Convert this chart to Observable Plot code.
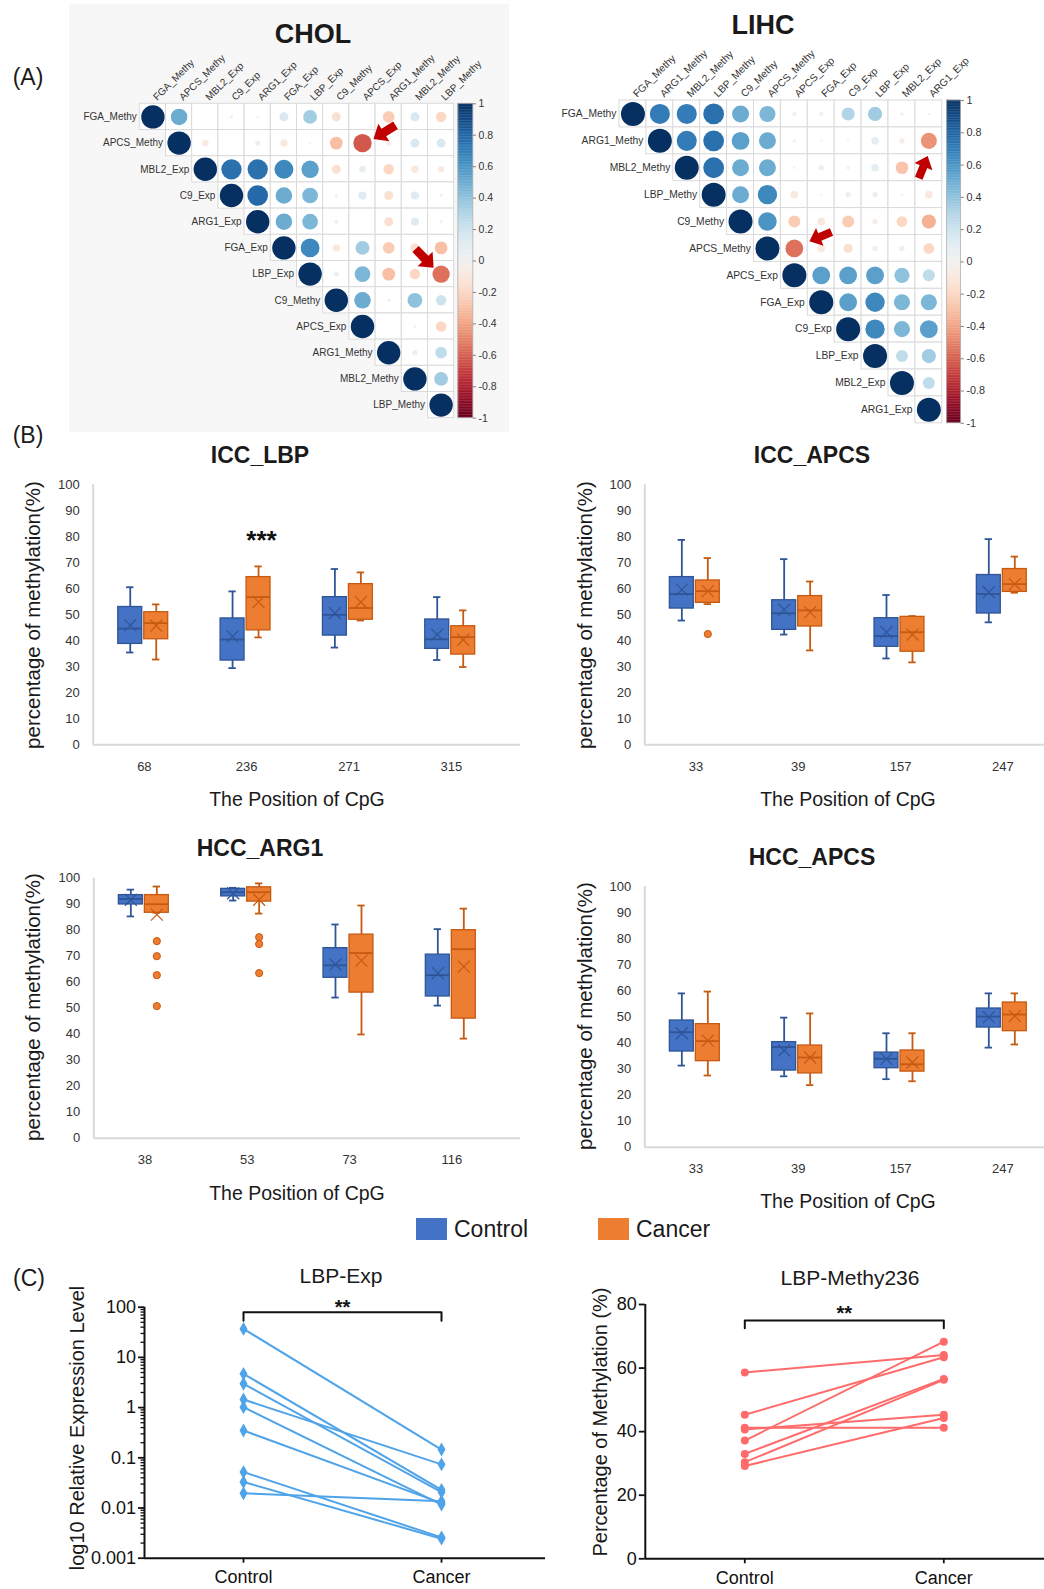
<!DOCTYPE html>
<html><head><meta charset="utf-8">
<script src="https://cdn.jsdelivr.net/npm/d3@7"></script>
<script src="https://cdn.jsdelivr.net/npm/@observablehq/plot@0.6"></script>
<style>
html,body{margin:0;padding:0;background:#fff;}
body{width:1044px;height:1589px;position:relative;overflow:hidden;font-family:"Liberation Sans",Arial,sans-serif;color:#1a1a1a;}
.abs{position:absolute;}
.lbl{position:absolute;white-space:nowrap;line-height:1;transform:translate(-50%,-50%);}
</style></head><body>
<script>
// ---------------- DATA ----------------
// (A) correlation matrices (upper triangle, each row starts at the diagonal)
const cholVars = ["FGA_Methy","APCS_Methy","MBL2_Exp","C9_Exp","ARG1_Exp","FGA_Exp","LBP_Exp","C9_Methy","APCS_Exp","ARG1_Methy","MBL2_Methy","LBP_Methy"];
const cholCorr = [
  [1, 0.5, 0, 0.02, 0.01, 0.15, 0.35, -0.15, 0, -0.25, 0.15, -0.2],
  [1, -0.08, 0, 0.05, -0.1, 0.01, -0.3, -0.62, -0.05, 0.15, 0.15],
  [1, 0.75, 0.75, 0.65, 0.55, -0.15, 0.08, -0.2, -0.1, -0.08],
  [1, 0.78, 0.5, 0.45, -0.02, 0.12, -0.15, 0.12, -0.02],
  [1, 0.5, 0.45, -0.03, 0, -0.15, 0.12, -0.02],
  [1, 0.65, -0.1, 0.35, -0.25, -0.15, -0.3],
  [1, 0.05, 0.45, -0.3, -0.2, -0.55],
  [1, 0.5, -0.02, 0.4, 0.2],
  [1, 0, -0.01, -0.2],
  [1, 0.05, 0.25],
  [1, 0.35],
  [1]
];
const lihcVars = ["FGA_Methy","ARG1_Methy","MBL2_Methy","LBP_Methy","C9_Methy","APCS_Methy","APCS_Exp","FGA_Exp","C9_Exp","LBP_Exp","MBL2_Exp","ARG1_Exp"];
const lihcCorr = [
  [1, 0.7, 0.7, 0.75, 0.5, 0.45, 0.03, 0.03, 0.3, 0.35, 0.02, 0.01],
  [1, 0.7, 0.75, 0.55, 0.5, 0.02, 0.01, 0.01, 0.1, -0.05, -0.45],
  [1, 0.75, 0.5, 0.5, 0.01, 0.05, 0.02, 0.1, -0.28, -0.05],
  [1, 0.5, 0.65, -0.1, 0.01, 0.05, 0.05, 0.01, -0.1],
  [1, 0.6, -0.25, -0.1, -0.25, -0.05, -0.2, -0.35],
  [1, -0.55, -0.1, -0.15, -0.05, -0.05, -0.2],
  [1, 0.55, 0.55, 0.55, 0.4, 0.25],
  [1, 0.55, 0.65, 0.45, 0.45],
  [1, 0.65, 0.45, 0.55],
  [1, 0.25, 0.35],
  [1, 0.25],
  [1]
];
const colorbarTicks = [1, 0.8, 0.6, 0.4, 0.2, 0, -0.2, -0.4, -0.6, -0.8, -1];
// annotation arrows: cell-space position and pointing angle (deg, clockwise from up)
const cholArrows = [{x: 9.34, y: 1.08, angle: 238}, {x: 10.87, y: 5.9, angle: 136}];
const lihcArrows = [{x: 11.29, y: 2.48, angle: 22}, {x: 7.47, y: 5.06, angle: 247}];

// (B) box plots: [min, q1, median, q3, max, mean]
const iccLbpPositions = ["68","236","271","315"];
const iccLbpControl = [[35.5,38.8,44.7,53,60.6,46],[29.5,32.4,40.5,48.6,59,41.7],[37.4,42,50,56.8,67.6,50.6],[32.6,36.9,40.6,48.2,56.8,42.4]];
const iccLbpCancer  = [[32.8,40.6,46.8,51,54,45.8],[41.3,44,56.8,64.5,68.6,54.9],[47.8,48.1,52.6,61.8,66.3,54.9],[29.9,34.7,41.4,45.6,51.7,40.4]];
const iccLbpOutliers = [];

const iccApcsPositions = ["33","39","157","247"];
const iccApcsControl = [[47.8,52.4,58,64.5,78.8,59.7],[42.4,44.2,50.6,55.6,71.4,52],[33.2,37.7,41.8,48.7,57.6,43.3],[47.1,50.5,58,65.3,79.1,58.7]];
const iccApcsCancer  = [[54.1,54.6,59.1,63.2,71.8,59.1],[36.3,45.5,51.7,57.2,62.8,51],[31.7,35.8,43.3,49.2,49.5,42.4],[58.5,58.8,61.8,67.6,72.4,61.8]];
const iccApcsOutliers = [[0, 42.6]];

const hccArg1Positions = ["38","53","73","116"];
const hccArg1Control = [[85.3,89.9,92,93.5,95.6,91.7],[91.4,93,94.6,95.9,96.3,94.2],[54.1,61.7,66.5,73.1,82.2,66.8],[51,54.5,62.7,70.6,80.4,63.5]];
const hccArg1Cancer  = [[86.7,86.7,90,93.5,96.8,86],[86.4,91,94.6,96.5,98,91.7],[39.9,56,71.2,78.3,89.5,68.3],[38.3,46,72.7,80,88.3,66]];
const hccArg1Outliers = [[0,75.8],[0,70],[0,62.7],[0,50.8],[1,77.3],[1,74.7],[1,63.5]];

const hccApcsPositions = ["33","39","157","247"];
const hccApcsControl = [[31.3,36.7,44.1,48.6,59,43.7],[27.2,29.4,38.4,40.3,49.7,37.1],[26.1,30.3,33.9,36.3,43.7,33.9],[38.2,45.9,50.1,53.2,59,49.9]];
const hccApcsCancer  = [[27.5,33,40.7,47.2,59.7,40.9],[23.8,28.3,34.4,39,51.3,34.4],[25.3,29,31.8,37.1,43.7,32.5],[39.4,44.5,50.9,55.5,59,50.3]];
const hccApcsOutliers = [];

const yTicksB = [0,10,20,30,40,50,60,70,80,90,100];
const groups = ["Control","Cancer"];

// (C) paired samples
const expControl = [37, 4.7, 2.98, 1.45, 1.02, 0.35, 0.052, 0.033, 0.0197];
const expCancer  = [0.146, 0.023, 0.0207, 0.074, 0.0117, 0.0125, 0.0026, 0.00245, 0.0136];
const expTicks = [0.001, 0.01, 0.1, 1, 10, 100];
const methyControl = [58.6, 45.3, 41.2, 40.7, 37.2, 33.0, 30.4, 29.2];
const methyCancer  = [64.1, 63.4, 41.2, 45.3, 68.3, 56.6, 56.3, 44.3];
const methyTicks = [0, 20, 40, 60, 80];

// ---------------- HELPERS ----------------
const FONT = '"Liberation Sans", Arial, sans-serif';
function put(node, left, top, w) {
  const d = document.createElement("div");
  d.className = "abs"; d.style.left = left + "px"; d.style.top = top + "px";
  if (w) d.style.width = w + "px";
  d.appendChild(node); document.body.appendChild(d); return d;
}
function label(str, x, y, o = {}) {
  const d = document.createElement("div");
  d.className = "lbl"; d.textContent = str;
  d.style.left = x + "px"; d.style.top = y + "px";
  d.style.fontSize = (o.size || 20) + "px";
  if (o.bold) d.style.fontWeight = "bold";
  if (o.rotate) d.style.transform = `translate(-50%,-50%) rotate(${o.rotate}deg)`;
  if (o.color) d.style.color = o.color;
  document.body.appendChild(d);
}
function arrowSymbol(angle) {
  const t = angle * Math.PI / 180, c = Math.cos(t), s = Math.sin(t);
  return {draw(ctx, size) {
    const L = Math.sqrt(size / Math.PI) * 2;
    const hw = L * 0.4, sw = L * 0.17, top = -L / 2, bot = L / 2, neck = top + L * 0.47;
    const pts = [[0, top], [hw, neck], [sw, neck], [sw, bot], [-sw, bot], [-sw, neck], [-hw, neck]];
    pts.forEach(([px, py], k) => {
      const X = px * c - py * s, Y = px * s + py * c;
      if (k === 0) ctx.moveTo(X, Y); else ctx.lineTo(X, Y);
    });
    ctx.closePath();
  }};
}

// ---------------- (A) CORRELATION PLOTS ----------------
function corrPlot(vars, rows, arrows, b) {
  const n = vars.length;
  const cells = [];
  rows.forEach((row, i) => row.forEach((v, k) => cells.push({i, j: i + k, v})));
  const steps = d3.range(0, 200).map(k => ({v0: -1 + k * 0.01, v1: -1 + (k + 1) * 0.01}));
  const cx1 = n + b.cbGap, cx2 = n + b.cbGap + b.cbW;
  const yOf = v => (1 - v) * n / 2;
  const marks = [
    Plot.rect(cells, {x1: "j", x2: d => d.j + 1, y1: "i", y2: d => d.i + 1, fill: "white", stroke: "#dadada", strokeWidth: 1}),
    Plot.dot(cells, {x: d => d.j + 0.5, y: d => d.i + 0.5, r: d => Math.abs(d.v), fill: "v", stroke: "none"}),
    Plot.text(vars, {x: (d, i) => i + 0.5, y: () => 0, text: d => d, rotate: -45, textAnchor: "start", dx: 2, dy: -5, fontSize: b.fs, fill: "#333"}),
    Plot.text(vars, {x: (d, i) => i, y: (d, i) => i + 0.5, text: d => d, textAnchor: "end", dx: -3, fontSize: b.fs, fill: "#333"}),
    Plot.rect(steps, {x1: () => cx1, x2: () => cx2, y1: d => yOf(d.v1), y2: d => yOf(d.v0), fill: d => (d.v0 + d.v1) / 2, stroke: d => (d.v0 + d.v1) / 2, strokeWidth: 0.3}),
    Plot.rect([0], {x1: () => cx1, x2: () => cx2, y1: () => 0, y2: () => n, fill: "none", stroke: "#b0b0b0", strokeWidth: 0.8}),
    Plot.ruleY(colorbarTicks, {y: d => yOf(d), x1: () => cx2, x2: () => cx2 + 0.12, stroke: "#666", strokeWidth: 0.8}),
    Plot.text(colorbarTicks, {x: () => cx2 + 0.2, y: d => yOf(d), text: d => String(d), textAnchor: "start", fontSize: b.fs + 0.5, fill: "#333"})
  ];
  arrows.forEach(a => marks.push(Plot.dot([a], {x: "x", y: "y", r: b.ar, symbol: arrowSymbol(a.angle), fill: "#c00000", stroke: "none"})));
  return Plot.plot({
    width: b.w, height: b.h, margin: 0,
    x: {domain: [0, n], range: [b.gx, b.gx + n * b.cell], axis: null},
    y: {domain: [0, n], range: [b.gy, b.gy + n * b.cell], axis: null},
    color: {type: "linear", domain: [-1, 1], scheme: "rdbu"},
    r: {type: "sqrt", domain: [0, 1], range: [0, b.rmax]},
    style: {background: b.bg, fontFamily: FONT, overflow: "visible"},
    marks
  });
}
put(corrPlot(cholVars, cholCorr, cholArrows, {w: 440, h: 428, gx: 70.3, gy: 99.3, cell: 26.2, rmax: 11.7, cbGap: 0.16, cbW: 0.57, bg: "#f7f7f7", fs: 10, ar: 13}), 69, 4, 440);
put(corrPlot(lihcVars, lihcCorr, lihcArrows, {w: 504, h: 432, gx: 79, gy: 100, cell: 26.9, rmax: 12, cbGap: 0.18, cbW: 0.52, bg: "white", fs: 10.3, ar: 12}), 540, 0, 504);
label("CHOL", 313, 34, {size: 27, bold: true});
label("LIHC", 763, 25, {size: 27, bold: true});
label("(A)", 28, 77, {size: 23});

// ---------------- (B) BOX PLOTS ----------------
function boxPanel(positions, control, cancer, outliers, b) {
  const rows = [];
  control.forEach((s, i) => rows.push({i, g: "Control", min: s[0], q1: s[1], med: s[2], q3: s[3], max: s[4], mean: s[5]}));
  cancer.forEach((s, i) => rows.push({i, g: "Cancer", min: s[0], q1: s[1], med: s[2], q3: s[3], max: s[4], mean: s[5]}));
  const off = {Control: 0.362, Cancer: 0.616}, hw = 0.117, cap = 0.036;
  const col = {Control: {fill: "#4472C4", line: "#2F5597"}, Cancer: {fill: "#ED7D31", line: "#C55A11"}};
  const cx = d => d.i + off[d.g];
  const marks = [
    Plot.ruleY([0], {stroke: "#d9d9d9", strokeWidth: 2}),
    Plot.ruleX([0], {y1: () => 0, y2: () => 100, stroke: "#d9d9d9", strokeWidth: 2}),
    Plot.axisY({ticks: yTicksB, tickSize: 0, tickPadding: 13.5, fontSize: 13, fill: "#333", label: null}),
    Plot.axisX({ticks: [0.5, 1.5, 2.5, 3.5], tickFormat: d => positions[Math.floor(d)], tickSize: 0, tickPadding: 17, fontSize: 13, fill: "#333", label: null})
  ];
  for (const g of groups) {
    const data = rows.filter(d => d.g === g), c = col[g];
    marks.push(
      Plot.ruleX(data, {x: cx, y1: "min", y2: "q1", stroke: c.line, strokeWidth: 1.8}),
      Plot.ruleX(data, {x: cx, y1: "q3", y2: "max", stroke: c.line, strokeWidth: 1.8}),
      Plot.ruleY(data, {y: "min", x1: d => cx(d) - cap, x2: d => cx(d) + cap, stroke: c.line, strokeWidth: 1.8}),
      Plot.ruleY(data, {y: "max", x1: d => cx(d) - cap, x2: d => cx(d) + cap, stroke: c.line, strokeWidth: 1.8}),
      Plot.rect(data, {x1: d => cx(d) - hw, x2: d => cx(d) + hw, y1: "q1", y2: "q3", fill: c.fill, stroke: c.line, strokeWidth: 1.3}),
      Plot.ruleY(data, {y: "med", x1: d => cx(d) - hw, x2: d => cx(d) + hw, stroke: c.line, strokeWidth: 1.8}),
      Plot.dot(data, {x: cx, y: "mean", symbol: "times", r: 5.5, stroke: c.line, strokeWidth: 1.2})
    );
  }
  marks.push(Plot.dot(outliers, {x: d => d[0] + off.Cancer, y: d => d[1], r: 3.6, fill: "#ED7D31", stroke: "#C55A11", strokeWidth: 1}));
  if (b.star) marks.push(Plot.text([b.star], {x: d => d.x, y: d => d.y, text: d => d.text, fontSize: 26, fontWeight: "bold", fill: "#111"}));
  return Plot.plot({
    width: b.w, height: b.h, marginLeft: b.x0, marginRight: 0, marginTop: b.y100, marginBottom: b.h - b.y0,
    x: {domain: [0, 4], range: [b.x0, b.x0 + 409.3], axis: null},
    y: {domain: [0, 100], axis: null},
    style: {fontFamily: FONT, background: "transparent", overflow: "visible", color: "#333"},
    marks
  });
}
put(boxPanel(iccLbpPositions, iccLbpControl, iccLbpCancer, iccLbpOutliers, {w: 520, h: 310, x0: 92.7, y100: 14.3, y0: 274.3, star: {x: 1.645, y: 78.6, text: "***"}}), 0, 470, 520);
put(boxPanel(iccApcsPositions, iccApcsControl, iccApcsCancer, iccApcsOutliers, {w: 524, h: 310, x0: 124.3, y100: 14.3, y0: 274.3}), 520, 470, 524);
put(boxPanel(hccArg1Positions, hccArg1Control, hccArg1Cancer, hccArg1Outliers, {w: 520, h: 310, x0: 93.3, y100: 17.7, y0: 277.7}), 0, 860, 520);
put(boxPanel(hccApcsPositions, hccApcsControl, hccApcsCancer, hccApcsOutliers, {w: 524, h: 310, x0: 124.3, y100: 16, y0: 276.7}), 520, 870, 524);

label("(B)", 28, 435, {size: 23});
label("ICC_LBP", 260, 455, {size: 23, bold: true});
label("ICC_APCS", 812, 455, {size: 23, bold: true});
label("HCC_ARG1", 260, 848, {size: 23, bold: true});
label("HCC_APCS", 812, 857, {size: 23, bold: true});
const yTitleB = "percentage of methylation(%)";
label(yTitleB, 33, 615, {size: 20.5, rotate: -90});
label(yTitleB, 585, 615, {size: 20.5, rotate: -90});
label(yTitleB, 33, 1007, {size: 20.5, rotate: -90});
label(yTitleB, 585, 1016, {size: 20.5, rotate: -90});
const xTitleB = "The Position of CpG";
label(xTitleB, 297, 800, {size: 19.5});
label(xTitleB, 848, 800, {size: 19.5});
label(xTitleB, 297, 1194, {size: 19.5});
label(xTitleB, 848, 1202, {size: 19.5});

// legend
(function () {
  const items = [{t: "Control", c: "#4472C4", x: 416}, {t: "Cancer", c: "#ED7D31", x: 598}];
  items.forEach(it => {
    const sw = document.createElement("div");
    sw.className = "abs";
    Object.assign(sw.style, {left: it.x + "px", top: "1218px", width: "31px", height: "22px", background: it.c});
    document.body.appendChild(sw);
    const t = document.createElement("div");
    t.className = "abs"; t.textContent = it.t;
    Object.assign(t.style, {left: (it.x + 38) + "px", top: "1217px", fontSize: "23px", lineHeight: "24px"});
    document.body.appendChild(t);
  });
})();

// ---------------- (C) PAIRED PLOTS ----------------
function pairPanel(ctrl, canc, b) {
  const pairs = ctrl.map((c, i) => ({c, k: canc[i]}));
  const pts = ctrl.map(v => ({x: 0, v})).concat(canc.map(v => ({x: 1, v})));
  const ymin = b.yDomain[0], ymax = b.yDomain[1];
  const marks = [
    Plot.ruleY([ymin], {stroke: "#111", strokeWidth: 2}),
    Plot.ruleX([-0.5], {y1: () => ymin, y2: () => ymax, stroke: "#111", strokeWidth: 2}),
    Plot.axisY({ticks: b.ticks, tickSize: 6, tickPadding: 2.5, tickFormat: d => String(d), fontSize: 18, stroke: "#111", strokeWidth: 1.8, fill: "#111", label: null}),
    Plot.axisX({ticks: [0, 1], tickFormat: d => groups[d], tickSize: 5, tickPadding: 7.5, fontSize: 18, stroke: "#111", strokeWidth: 1.8, fill: "#111", label: null}),
    Plot.link(pairs, {x1: () => 0, x2: () => 1, y1: "c", y2: "k", stroke: b.color, strokeWidth: 2}),
    Plot.dot(pts, {x: "x", y: "v", r: b.r, symbol: b.symbol, fill: b.color, stroke: "none"}),
    Plot.line([[0, b.br0], [0, b.br1], [1, b.br1], [1, b.br0]], {x: d => d[0], y: d => d[1], stroke: "#111", strokeWidth: 2}),
    Plot.text(["**"], {x: () => 0.5, y: () => b.starY, text: d => d, fontSize: 20, fontWeight: "bold", fill: "#111"})
  ];
  if (b.minor) marks.splice(3, 0, Plot.axisY({ticks: b.minor, tickSize: 3.5, tickFormat: () => "", stroke: "#111", strokeWidth: 1.3, label: null}));
  return Plot.plot({
    width: b.w, height: b.h, marginLeft: b.x0, marginRight: 0, marginTop: b.yTop, marginBottom: b.h - b.yBot,
    x: {domain: [-0.5, 1.5], range: [b.x0, b.x0 + b.span], label: null},
    y: b.log ? {type: "log", domain: b.yDomain, label: null} : {domain: b.yDomain, label: null},
    style: {fontFamily: FONT, background: "transparent", overflow: "visible", color: "#111"},
    marks
  });
}
const expMinor = [];
for (let e = -3; e < 2; e++) for (let m = 2; m <= 9; m++) expMinor.push(+(m * Math.pow(10, e)).toPrecision(3));
put(pairPanel(expControl, expCancer, {w: 545, h: 309, x0: 144, span: 396, yTop: 26.7, yBot: 277.7, log: true, yDomain: [0.001, 100], ticks: expTicks, minor: expMinor, color: "#4FA3E8", symbol: "diamond", r: 4.2, br0: 54, br1: 79, starY: 100}), 0, 1280, 545);
put(pairPanel(methyControl, methyCancer, {w: 524, h: 309, x0: 124.8, span: 398, yTop: 24, yBot: 278.3, log: false, yDomain: [0, 80], ticks: methyTicks, color: "#FF6B6B", symbol: "circle", r: 4, br0: 72.5, br1: 75, starY: 77.1}), 520, 1280, 524);

label("(C)", 29, 1278, {size: 23});
label("LBP-Exp", 341, 1275, {size: 21});
label("LBP-Methy236", 850, 1277, {size: 21});
label("log10 Relative Expression Level", 77, 1428, {size: 20, rotate: -90});
label("Percentage of Methylation (%)", 600, 1422, {size: 20, rotate: -90});
</script>
</body></html>
